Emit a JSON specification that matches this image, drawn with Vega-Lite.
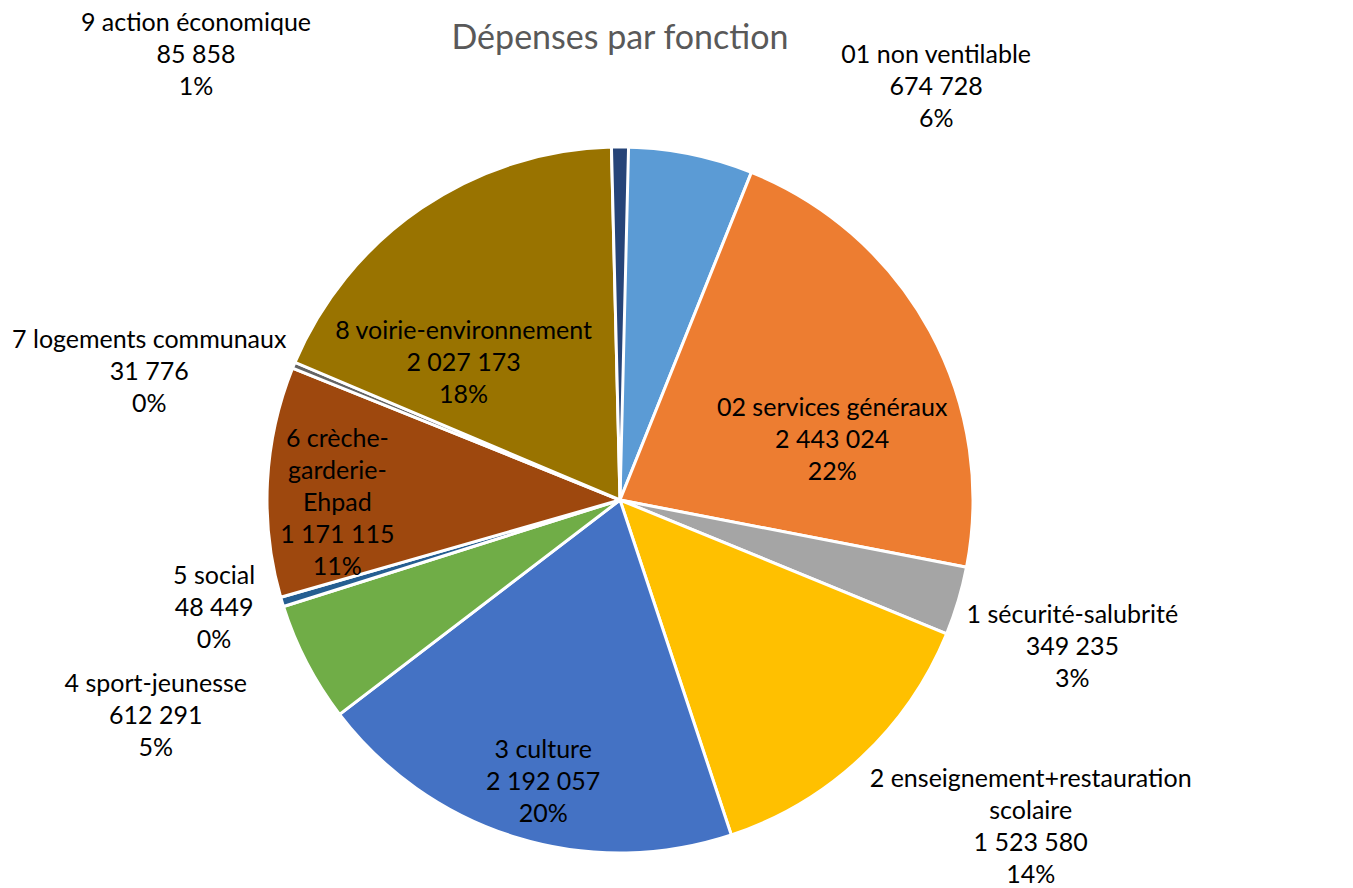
{
  "$schema": "https://vega.github.io/schema/vega-lite/v6.json",
  "width": 1240,
  "height": 776,
  "autosize": {"type": "none"},
  "padding": {"left": 0, "top": 112, "right": 113, "bottom": 0},
  "background": "white",
  "title": {"text": "Dépenses par fonction", "font": "Lato", "fontSize": 34, "fontWeight": "normal", "color": "#595959", "anchor": "middle", "frame": "group", "baseline": "middle", "offset": -62},
  "config": {
    "view": {"stroke": null},
    "locale": {"number": {"decimal": ",", "thousands": " ", "grouping": [3], "currency": ["", " €"]}},
    "text": {"font": "Lato", "fontSize": 25, "lineHeight": 32, "lineBreak": "\n", "align": "center", "baseline": "middle", "color": "black"}
  },
  "data": {"values": [
    {"fonction": "01 non ventilable", "libelle": "01 non ventilable", "montant": 674728, "part": 6},
    {"fonction": "02 services généraux", "libelle": "02 services généraux", "montant": 2443024, "part": 22},
    {"fonction": "1 sécurité-salubrité", "libelle": "1 sécurité-salubrité", "montant": 349235, "part": 3},
    {"fonction": "2 enseignement+restauration scolaire", "libelle": "2 enseignement+restauration\nscolaire", "montant": 1523580, "part": 14},
    {"fonction": "3 culture", "libelle": "3 culture", "montant": 2192057, "part": 20},
    {"fonction": "4 sport-jeunesse", "libelle": "4 sport-jeunesse", "montant": 612291, "part": 5},
    {"fonction": "5 social", "libelle": "5 social", "montant": 48449, "part": 0},
    {"fonction": "6 crèche-garderie-Ehpad", "libelle": "6 crèche-\ngarderie-\nEhpad", "montant": 1171115, "part": 11},
    {"fonction": "7 logements communaux", "libelle": "7 logements communaux", "montant": 31776, "part": 0},
    {"fonction": "8 voirie-environnement", "libelle": "8 voirie-environnement", "montant": 2027173, "part": 18},
    {"fonction": "9 action économique", "libelle": "9 action économique", "montant": 85858, "part": 1}
  ]},
  "transform": [
    {"stack": "montant", "groupby": [], "sort": [{"field": "fonction", "order": "ascending"}], "as": ["debut", "fin"]},
    {"calculate": "(datum.debut + datum.fin) / 2", "as": "milieu"},
    {"calculate": "datum.libelle + '\\n' + format(datum.montant, ',d') + '\\n' + datum.part + '%'", "as": "etiquette"}
  ],
  "layer": [
    {
      "mark": {"type": "arc", "outerRadius": 353, "stroke": "white", "strokeWidth": 3},
      "encoding": {
        "theta": {"field": "debut", "type": "quantitative", "stack": null, "scale": {"nice": false, "zero": true}},
        "theta2": {"field": "fin"},
        "color": {"field": "fonction", "type": "nominal", "legend": null, "scale": {
          "domain": ["01 non ventilable", "02 services généraux", "1 sécurité-salubrité", "2 enseignement+restauration scolaire", "3 culture", "4 sport-jeunesse", "5 social", "6 crèche-garderie-Ehpad", "7 logements communaux", "8 voirie-environnement", "9 action économique"],
          "range": ["#5B9BD5", "#ED7D31", "#A5A5A5", "#FFC000", "#4472C4", "#70AD47", "#255E91", "#9E480E", "#636363", "#997300", "#264478"]}}
      }
    },
    {"transform": [{"filter": "datum.fonction == '01 non ventilable'"}], "mark": {"type": "text", "radius": 423, "dx": 236, "dy": -30},
     "encoding": {"theta": {"field": "milieu", "type": "quantitative", "stack": null}, "text": {"field": "etiquette"}}},
    {"transform": [{"filter": "datum.fonction == '02 services généraux'"}], "mark": {"type": "text", "radius": 220, "dx": 19, "dy": 13},
     "encoding": {"theta": {"field": "milieu", "type": "quantitative", "stack": null}, "text": {"field": "etiquette"}}},
    {"transform": [{"filter": "datum.fonction == '1 sécurité-salubrité'"}], "mark": {"type": "text", "radius": 470, "dx": 2, "dy": -19},
     "encoding": {"theta": {"field": "milieu", "type": "quantitative", "stack": null}, "text": {"field": "etiquette"}}},
    {"transform": [{"filter": "datum.fonction == '2 enseignement+restauration scolaire'"}], "mark": {"type": "text", "radius": 480, "dx": 83, "dy": -72},
     "encoding": {"theta": {"field": "milieu", "type": "quantitative", "stack": null}, "text": {"field": "etiquette"}}},
    {"transform": [{"filter": "datum.fonction == '3 culture'"}], "mark": {"type": "text", "radius": 295, "dx": 10, "dy": -32},
     "encoding": {"theta": {"field": "milieu", "type": "quantitative", "stack": null}, "text": {"field": "etiquette"}}},
    {"transform": [{"filter": "datum.fonction == '4 sport-jeunesse'"}], "mark": {"type": "text", "radius": 530, "dx": 6, "dy": -61},
     "encoding": {"theta": {"field": "milieu", "type": "quantitative", "stack": null}, "text": {"field": "etiquette"}}},
    {"transform": [{"filter": "datum.fonction == '5 social'"}], "mark": {"type": "text", "radius": 425, "dx": 1, "dy": -47},
     "encoding": {"theta": {"field": "milieu", "type": "quantitative", "stack": null}, "text": {"field": "etiquette"}}},
    {"transform": [{"filter": "datum.fonction == '6 crèche-garderie-Ehpad'"}], "mark": {"type": "text", "radius": 283, "dx": 0, "dy": -46},
     "encoding": {"theta": {"field": "milieu", "type": "quantitative", "stack": null}, "text": {"field": "etiquette"}}},
    {"transform": [{"filter": "datum.fonction == '7 logements communaux'"}], "mark": {"type": "text", "radius": 505, "dx": -4, "dy": 33},
     "encoding": {"theta": {"field": "milieu", "type": "quantitative", "stack": null}, "text": {"field": "etiquette"}}},
    {"transform": [{"filter": "datum.fonction == '8 voirie-environnement'"}], "mark": {"type": "text", "radius": 200, "dx": -44, "dy": -4},
     "encoding": {"theta": {"field": "milieu", "type": "quantitative", "stack": null}, "text": {"field": "etiquette"}}},
    {"transform": [{"filter": "datum.fonction == '9 action économique'"}], "mark": {"type": "text", "radius": 447, "dx": -424, "dy": -30},
     "encoding": {"theta": {"field": "milieu", "type": "quantitative", "stack": null}, "text": {"field": "etiquette"}}}
  ]
}
